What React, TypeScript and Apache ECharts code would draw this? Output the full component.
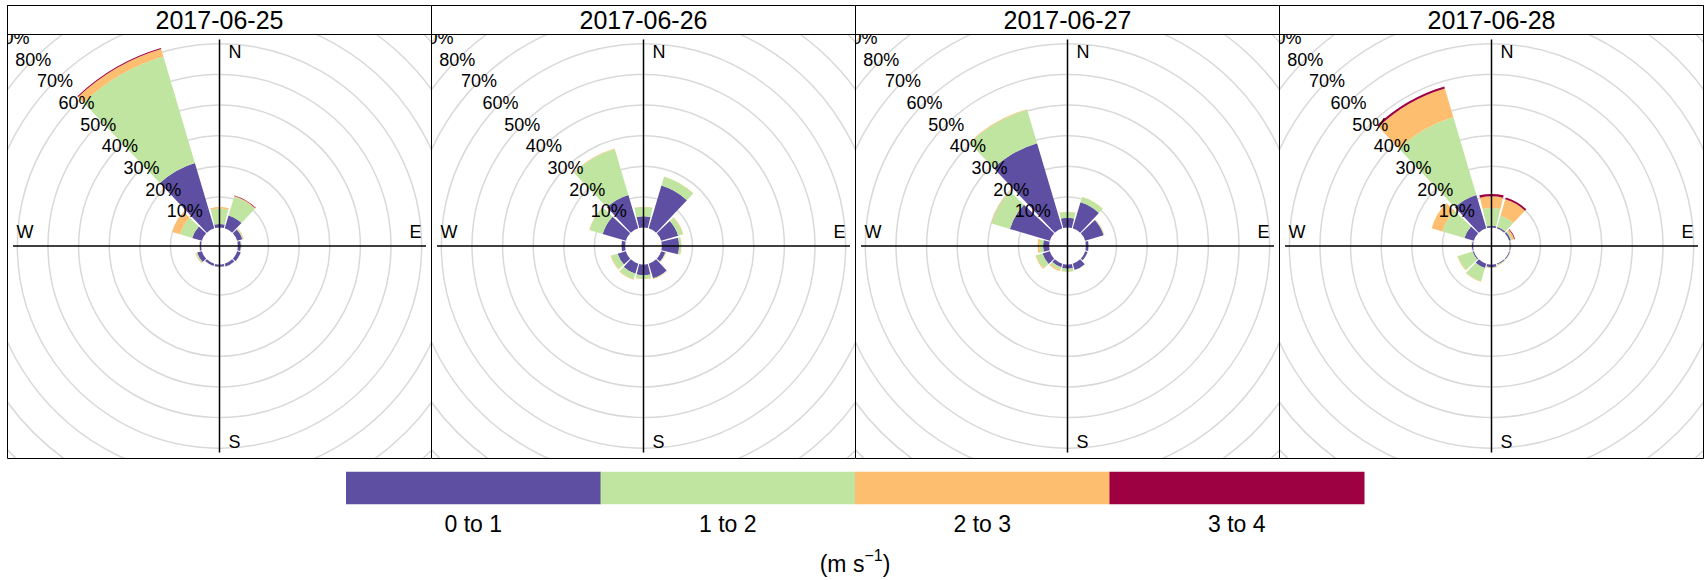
import React, { useEffect, useRef } from 'react';
import * as echarts from 'echarts';

// ---------- data ----------
const DATES = ['2017-06-25', '2017-06-26', '2017-06-27', '2017-06-28'];
const DIRECTIONS = [0, 30, 60, 90, 120, 150, 180, 210, 240, 270, 300, 330];
const BINS = ['0 to 1', '1 to 2', '2 to 3', '3 to 4'];
const BIN_COLORS = ['#5E4FA2', '#BFE5A0', '#FDBF6F', '#9E0142'];
const UNIT_BASE = '(m s';
const UNIT_SUP = '−1';
const RING_MAX = 90;
const RING_STEP = 10;

// frequency (%) per direction 0..330, by speed bin
const jun25_0to1 = [1.2, 4.4, 1.8, 1.0, 1.2, 1.0, 0.8, 0.8, 1.6, 0.5, 3.3, 22.3];
const jun25_1to2 = [5.0, 6.4, 0.3, 0.2, 0.1, 0.1, 0.1, 0.1, 0.4, 0.1, 4.1, 36.2];
const jun25_2to3 = [0.5, 0.2, 0.2, 0, 0, 0, 0, 0, 0.2, 0.1, 2.7, 2.6];
const jun25_3to4 = [0, 0.2, 0, 0, 0, 0, 0, 0, 0, 0, 0, 0.3];

const jun26_0to1 = [3.7, 14.6, 5.8, 5.6, 1.4, 5.0, 3.6, 3.4, 2.8, 1.2, 7.9, 11.4];
const jun26_1to2 = [3.0, 3.0, 1.6, 0.7, 0.2, 0.1, 1.1, 1.9, 2.2, 0.1, 4.5, 15.6];
const jun26_2to3 = [0.1, 0.1, 0.2, 0.1, 0.1, 0.1, 0.1, 0.2, 0.2, 0, 0.1, 0.2];
const jun26_3to4 = [0, 0, 0, 0, 0, 0, 0, 0, 0, 0, 0, 0];

const jun27_0to1 = [3.2, 8.9, 6.3, 0.9, 0.8, 2.2, 1.4, 1.2, 2.5, 2.0, 13.6, 29.0];
const jun27_1to2 = [1.9, 1.8, 0.2, 0.1, 0.1, 0.1, 1.0, 0.9, 2.1, 1.2, 6.2, 11.4];
const jun27_2to3 = [0.1, 0.1, 0.1, 0, 0, 0, 0.1, 0.5, 0.3, 0.6, 0.2, 0.2];
const jun27_3to4 = [0, 0, 0, 0, 0, 0, 0, 0, 0, 0, 0, 0];

const jun28_0to1 = [0.6, 0.5, 0.6, 0.3, 0.3, 0.3, 0.9, 1.5, 0.4, 0.4, 3.2, 11.4];
const jun28_1to2 = [5.8, 3.8, 0.5, 0.1, 0.1, 0.2, 0.2, 4.5, 5.0, 0.1, 7.5, 26.4];
const jun28_2to3 = [3.8, 5.6, 0.7, 0.1, 0.1, 0.1, 0.1, 0.2, 0.2, 0.1, 3.7, 9.8];
const jun28_3to4 = [0.8, 0.6, 0.2, 0, 0, 0, 0, 0, 0, 0, 0, 0.7];

const PANELS = [
  [jun25_0to1, jun25_1to2, jun25_2to3, jun25_3to4],
  [jun26_0to1, jun26_1to2, jun26_2to3, jun26_3to4],
  [jun27_0to1, jun27_1to2, jun27_2to3, jun27_3to4],
  [jun28_0to1, jun28_1to2, jun28_2to3, jun28_3to4],
];

// ---------- layout ----------
const FONT = "'Liberation Sans', Arial, Helvetica, sans-serif";
const PANEL_LEFT = 7;
const PANEL_STEP = 424;
const PANEL_W = 425;
const PANEL_H = 454;
const STRIP_H = 29;
const CX = 212.5;
const CY = 241;
const R_INNER = 18.4;
const R_OUTER = 294;
const CROSS = 206.5;

// angle axis starts at NW (135deg math), so first category is the 330deg sector
const AXIS_ORDER = DIRECTIONS.map((_, i) => (i + DIRECTIONS.length - 1) % DIRECTIONS.length);

function panelOption(p: number) {
  const bins = PANELS[p];
  const ringColors = [] as string[];
  for (let v = 0; v <= RING_MAX; v += RING_STEP) ringColors.push(v === 0 ? 'rgba(0,0,0,0)' : '#d9d9d9');
  const txt = (x: number, y: number, text: string, align: string, size = 18, z = 60) => ({
    type: 'text',
    x,
    y,
    z,
    style: { text, fontSize: size, fontFamily: FONT, fill: '#000', align, verticalAlign: 'middle' },
  });
  return {
    animation: false,
    backgroundColor: '#fff',
    polar: [
      { center: [CX, CY], radius: [R_INNER, R_OUTER] },
      { center: [CX, CY], radius: [R_INNER, R_OUTER] },
    ],
    angleAxis: [
      {
        polarIndex: 0,
        type: 'category',
        data: AXIS_ORDER.map((k) => String(DIRECTIONS[k])),
        startAngle: 135,
        clockwise: true,
        boundaryGap: true,
        axisLine: { show: false },
        axisTick: { show: false },
        axisLabel: { show: false },
        splitLine: { show: false },
      },
      {
        polarIndex: 1,
        type: 'value',
        min: 0,
        max: 360,
        startAngle: 135,
        axisLine: { show: false },
        axisTick: { show: false },
        axisLabel: { show: false },
        splitLine: { show: false },
      },
    ],
    radiusAxis: [
      {
        polarIndex: 0,
        type: 'value',
        min: 0,
        max: RING_MAX,
        interval: RING_STEP,
        z: 1,
        axisLine: { show: false },
        axisTick: { show: false },
        axisLabel: { show: false },
        splitLine: { show: true, lineStyle: { color: ringColors, width: 1.5 } },
      },
      {
        polarIndex: 1,
        type: 'value',
        min: 0,
        max: RING_MAX,
        interval: RING_STEP,
        z: 10,
        axisLine: { show: false },
        axisTick: { show: false },
        splitLine: { show: false },
        axisLabel: {
          show: true,
          margin: 0,
          rotate: 0,
          align: 'center',
          verticalAlign: 'middle',
          formatter: '{value}%',
          fontSize: 18,
          fontFamily: FONT,
          color: '#000',
          showMinLabel: false,
          showMaxLabel: true,
          hideOverlap: false,
        },
      },
    ],
    series: BINS.map((name, j) => ({
      type: 'bar',
      name,
      coordinateSystem: 'polar',
      polarIndex: 0,
      stack: 'speed',
      barCategoryGap: '10%',
      z: 2,
      itemStyle: { color: BIN_COLORS[j] },
      data: AXIS_ORDER.map((k) => bins[j][k]),
    })),
    graphic: [
      {
        type: 'line',
        z: 50,
        shape: { x1: CX - CROSS, y1: CY, x2: CX + CROSS, y2: CY },
        style: { stroke: '#000', lineWidth: 1.5 },
      },
      {
        type: 'line',
        z: 50,
        shape: { x1: CX, y1: CY - CROSS, x2: CX, y2: CY + CROSS },
        style: { stroke: '#000', lineWidth: 1.5 },
      },
      txt(CX + 9, CY - 194.5, 'N', 'left'),
      txt(CX + 9, CY + 195.5, 'S', 'left'),
      txt(CX + 202, CY - 14, 'E', 'right'),
      txt(CX - 203, CY - 14, 'W', 'left'),
      {
        type: 'rect',
        z: 100,
        shape: { x: 0.5, y: 0.5, width: PANEL_W - 1, height: STRIP_H },
        style: { fill: '#fff', stroke: '#000', lineWidth: 1 },
      },
      {
        type: 'rect',
        z: 100,
        shape: { x: 0.5, y: 0.5, width: PANEL_W - 1, height: PANEL_H - 1 },
        style: { fill: 'none', stroke: '#000', lineWidth: 1 },
      },
      txt(CX, 15, DATES[p], 'center', 25, 110),
    ],
  };
}

function legendOption() {
  const left = 346;
  const segW = 254.5;
  const els: any[] = [];
  BINS.forEach((b, j) => {
    els.push({
      type: 'rect',
      shape: { x: left + j * segW, y: 11.7, width: segW + 0.5, height: 32.6 },
      style: { fill: BIN_COLORS[j] },
    });
    els.push({
      type: 'text',
      x: left + j * segW + segW / 2,
      y: 64,
      style: { text: b, fontSize: 23, fontFamily: FONT, fill: '#000', align: 'center', verticalAlign: 'middle' },
    });
  });
  els.push({
    type: 'text',
    x: left + 2 * segW,
    y: 101,
    style: {
      text: `{a|${UNIT_BASE}}{s|${UNIT_SUP}}{a|)}`,
      align: 'center',
      verticalAlign: 'middle',
      fill: '#000',
      rich: {
        a: { fontSize: 23, fontFamily: FONT, fill: '#000', lineHeight: 28, verticalAlign: 'bottom' },
        s: { fontSize: 16, fontFamily: FONT, fill: '#000', lineHeight: 28, verticalAlign: 'top', padding: [0, 0, 0, 0] },
      },
    },
  });
  return { animation: false, backgroundColor: '#fff', graphic: els };
}

function Chart({ option, style }: { option: any; style: React.CSSProperties }) {
  const ref = useRef<HTMLDivElement>(null);
  useEffect(() => {
    const chart = echarts.init(ref.current!, null, { renderer: 'svg' });
    chart.setOption(option);
    return () => chart.dispose();
  }, [option]);
  return <div ref={ref} style={{ position: 'absolute', overflow: 'hidden', background: '#fff', ...style }} />;
}

const PANEL_OPTIONS = DATES.map((_, p) => panelOption(p));
const LEGEND_OPTION = legendOption();

export default function App() {
  return (
    <div style={{ position: 'absolute', left: 0, top: 0, width: 1707, height: 580, background: '#fff', overflow: 'hidden' }}>
      {PANEL_OPTIONS.map((opt, p) => (
        <Chart
          key={p}
          option={opt}
          style={{ left: PANEL_LEFT + p * PANEL_STEP, top: 5, width: PANEL_W, height: PANEL_H }}
        />
      ))}
      <Chart option={LEGEND_OPTION} style={{ left: 0, top: 460, width: 1707, height: 120 }} />
    </div>
  );
}
